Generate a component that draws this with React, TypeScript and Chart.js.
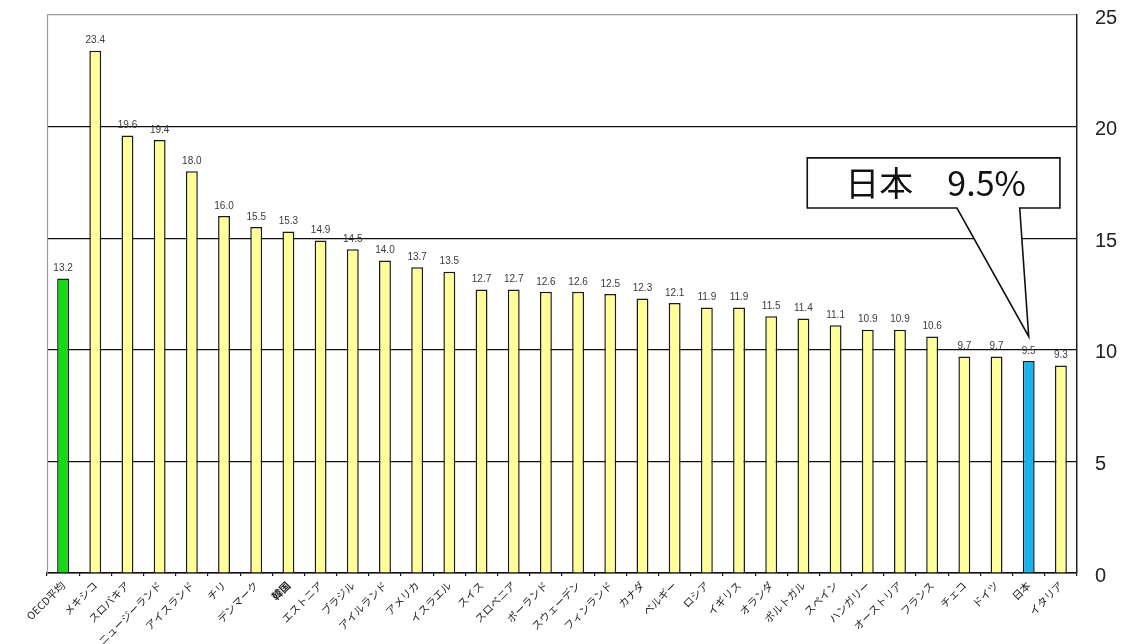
import React, { useEffect, useRef } from "react";
import { Chart, registerables } from "chart.js";

Chart.register(...registerables);

// 国別の数値（%）
const categories: string[] = [
  "OECD平均", "メキシコ", "スロバキア", "ニュージーランド", "アイスランド", "チリ",
  "デンマーク", "韓国", "エストニア", "ブラジル", "アイルランド", "アメリカ",
  "イスラエル", "スイス", "スロベニア", "ポーランド", "スウェーデン", "フィンランド",
  "カナダ", "ベルギー", "ロシア", "イギリス", "オランダ", "ポルトガル",
  "スペイン", "ハンガリー", "オーストリア", "フランス", "チェコ", "ドイツ",
  "日本", "イタリア",
];

const values: number[] = [
  13.2, 23.4, 19.6, 19.4, 18.0, 16.0,
  15.5, 15.3, 14.9, 14.5, 14.0, 13.7,
  13.5, 12.7, 12.7, 12.6, 12.6, 12.5,
  12.3, 12.1, 11.9, 11.9, 11.5, 11.4,
  11.1, 10.9, 10.9, 10.6, 9.7, 9.7,
  9.5, 9.3,
];

const yTicks: number[] = [0, 5, 10, 15, 20, 25];

const AVERAGE = "OECD平均";
const HIGHLIGHT = "日本";
const calloutText = "日本　9.5%";

const JP_FONT = '"Noto Sans CJK JP", "Noto Sans", sans-serif';
const LATIN_FONT = '"Liberation Sans", Arial, sans-serif';

const barColors = categories.map((c) =>
  c === AVERAGE ? "#11DD11" : c === HIGHLIGHT ? "#19B4EE" : "#FFFF99"
);

// 棒の上の数値ラベル、左枠線、吹き出し
const decorations = {
  id: "decorations",
  beforeDatasetsDraw(chart: any) {
    const { ctx, chartArea } = chart;
    ctx.save();
    ctx.strokeStyle = "#9a9a9a";
    ctx.lineWidth = 1.2;
    ctx.beginPath();
    ctx.moveTo(chartArea.left + 0.5, chartArea.top);
    ctx.lineTo(chartArea.left + 0.5, chartArea.bottom);
    ctx.stroke();
    ctx.restore();
  },
  afterDatasetsDraw(chart: any) {
    const { ctx } = chart;
    const meta = chart.getDatasetMeta(0);
    ctx.save();
    ctx.font = `10px ${LATIN_FONT}`;
    ctx.fillStyle = "#3a3a3a";
    ctx.textAlign = "center";
    ctx.textBaseline = "bottom";
    meta.data.forEach((bar: any, i: number) => {
      ctx.fillText(values[i].toFixed(1), bar.x, bar.y - 5);
    });

    // 吹き出し
    const xs = chart.scales.x;
    const ys = chart.scales.y;
    const hi = categories.indexOf(HIGHLIGHT);
    const left = xs.getPixelForValue(hi - 6.88);
    const right = xs.getPixelForValue(hi + 0.97);
    const top = ys.getPixelForValue(18.6);
    const bottom = ys.getPixelForValue(16.35);
    const p1 = xs.getPixelForValue(hi - 2.23);
    const p2 = xs.getPixelForValue(hi - 0.28);
    const tipX = meta.data[hi].x;
    const tipY = ys.getPixelForValue(10.6);

    ctx.beginPath();
    ctx.moveTo(left, top);
    ctx.lineTo(right, top);
    ctx.lineTo(right, bottom);
    ctx.lineTo(p2, bottom);
    ctx.lineTo(tipX, tipY);
    ctx.lineTo(p1, bottom);
    ctx.lineTo(left, bottom);
    ctx.closePath();
    ctx.fillStyle = "#ffffff";
    ctx.fill();
    ctx.strokeStyle = "#111";
    ctx.lineWidth = 1.6;
    ctx.lineJoin = "miter";
    ctx.stroke();

    ctx.fillStyle = "#111";
    ctx.font = `34px ${JP_FONT}`;
    ctx.textAlign = "center";
    ctx.textBaseline = "middle";
    ctx.fillText(calloutText, (left + right) / 2 + 2, (top + bottom) / 2);
    ctx.restore();
  },
};

export default function App() {
  const canvasRef = useRef<HTMLCanvasElement | null>(null);

  useEffect(() => {
    document.body.style.margin = "0";
    const canvas = canvasRef.current;
    if (!canvas) return;
    const chart = new Chart(canvas, {
      type: "bar",
      data: {
        labels: categories,
        datasets: [
          {
            data: values,
            backgroundColor: barColors,
            borderColor: "#1a1a1a",
            borderWidth: 1.5,
            barPercentage: 0.37,
            categoryPercentage: 1,
          },
        ],
      },
      options: {
        responsive: false,
        animation: false,
        devicePixelRatio: 1,
        layout: { padding: { left: 47, top: 15, right: 0, bottom: 0 } },
        plugins: {
          legend: { display: false },
          tooltip: { enabled: false },
          title: { display: false },
        },
        scales: {
          x: {
            afterFit(scale: any) {
              scale.height = 71;
              scale.paddingLeft = 0;
              scale.paddingRight = 0;
            },
            grid: {
              display: true,
              offset: true,
              drawOnChartArea: false,
              drawTicks: true,
              tickLength: 3,
              color: "#111",
              lineWidth: 1.2,
            },
            border: { display: true, color: "#111", width: 1.5 },
            ticks: {
              autoSkip: false,
              maxRotation: 45,
              minRotation: 45,
              padding: 3,
              color: "#222",
              font: (ctx: any) => ({
                family: JP_FONT,
                size: 10.5,
                weight: categories[ctx.index] === "韓国" ? "bold" : "normal",
              }),
            },
          },
          y: {
            position: "right",
            min: 0,
            max: 25,
            afterFit(scale: any) {
              scale.width = 49;
              scale.paddingTop = 0;
              scale.paddingBottom = 0;
            },
            afterBuildTicks(scale: any) {
              scale.ticks = yTicks.map((v) => ({ value: v }));
            },
            grid: {
              color: (ctx: any) => (ctx.tick && ctx.tick.value === 25 ? "#9a9a9a" : "#111"),
              lineWidth: 1.2,
              drawTicks: false,
            },
            border: { display: true, color: "#222", width: 1.5 },
            ticks: {
              padding: 18,
              labelOffset: 3,
              color: "#222",
              font: { family: LATIN_FONT, size: 20 },
            },
          },
        },
      },
      plugins: [decorations],
    });
    return () => chart.destroy();
  }, []);

  return (
    <div style={{ position: "absolute", left: 0, top: 0, width: 1126, height: 644, background: "#fff" }}>
      <canvas ref={canvasRef} width={1126} height={644} />
    </div>
  );
}
